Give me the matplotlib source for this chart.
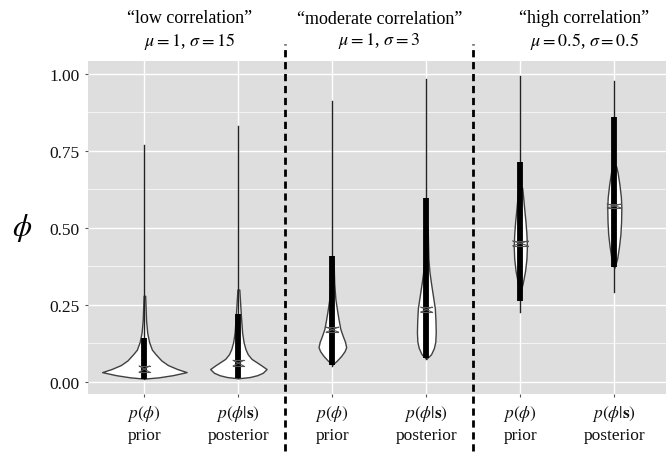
import numpy as np
import matplotlib
matplotlib.use("Agg")
import matplotlib.pyplot as plt
import matplotlib.transforms as mtransforms

plt.rcParams['font.family'] = ['Liberation Serif', 'DejaVu Serif']
plt.rcParams['mathtext.fontset'] = 'stix'

# categories / labels
positions = [1, 2, 3, 4, 5, 6]
tick_labels = [r"$p(\phi)$" + "\nprior", r"$p(\phi|\mathbf{s})$" + "\nposterior",
               r"$p(\phi)$" + "\nprior", r"$p(\phi|\mathbf{s})$" + "\nposterior",
               r"$p(\phi)$" + "\nprior", r"$p(\phi|\mathbf{s})$" + "\nposterior"]
group_titles = ["\u201clow correlation\u201d\n$\\mu = 1$, $\\sigma = 15$",
                "\u201cmoderate correlation\u201d\n$\\mu = 1$, $\\sigma = 3$",
                "\u201chigh correlation\u201d\n$\\mu = 0.5$, $\\sigma = 0.5$"]
group_title_x = [1.48, 3.5, 5.68]
separators = [2.5, 4.5]

# violin outlines: phi levels and half widths
v_levels = [
    [0.011, 0.015, 0.022, 0.032, 0.042, 0.055, 0.07, 0.09, 0.105, 0.13, 0.16, 0.2, 0.28],
    [0.012, 0.016, 0.022, 0.03, 0.042, 0.055, 0.075, 0.09, 0.107, 0.13, 0.16, 0.215, 0.3],
    [0.056, 0.07, 0.085, 0.1, 0.113, 0.13, 0.15, 0.172, 0.2, 0.227, 0.27, 0.32, 0.4],
    [0.075, 0.09, 0.11, 0.13, 0.16, 0.2, 0.24, 0.28, 0.32, 0.36, 0.4, 0.5],
    [0.29, 0.32, 0.36, 0.4, 0.44, 0.48, 0.52, 0.56, 0.6, 0.63],
    [0.37, 0.4, 0.44, 0.48, 0.52, 0.568, 0.6, 0.64, 0.68, 0.7],
]
v_halfwidth = [
    [0.0, 0.15, 0.3, 0.45, 0.35, 0.25, 0.18, 0.12, 0.08, 0.05, 0.03, 0.018, 0.008],
    [0.0, 0.12, 0.2, 0.26, 0.3, 0.24, 0.14, 0.1, 0.075, 0.055, 0.04, 0.027, 0.01],
    [0.0, 0.05, 0.095, 0.13, 0.147, 0.135, 0.11, 0.085, 0.068, 0.053, 0.032, 0.02, 0.012],
    [0.0, 0.05, 0.08, 0.095, 0.1, 0.097, 0.09, 0.07, 0.05, 0.032, 0.022, 0.014],
    [0.0, 0.025, 0.05, 0.065, 0.07, 0.065, 0.055, 0.042, 0.03, 0.02],
    [0.0, 0.03, 0.05, 0.065, 0.072, 0.075, 0.07, 0.055, 0.035, 0.02],
]

# intervals (thin = full range, thick = inner interval)
thin_lo = [0.01, 0.012, 0.052, 0.075, 0.227, 0.292]
thin_hi = [0.77, 0.83, 0.912, 0.985, 0.994, 0.977]
thick_lo = [0.011, 0.013, 0.056, 0.077, 0.263, 0.373]
thick_hi = [0.143, 0.22, 0.41, 0.597, 0.714, 0.86]

# central markers (two values each) and their half widths
mark_a = [0.032, 0.052, 0.162, 0.227, 0.442, 0.565]
mark_b = [0.052, 0.07, 0.178, 0.243, 0.458, 0.578]
mark_w = [0.055, 0.055, 0.065, 0.06, 0.08, 0.075]

fig = plt.figure(figsize=(6.66, 4.56), dpi=100)
ax = fig.add_axes([88 / 666, 61 / 456, 578 / 666, 333 / 456])
ax.set_facecolor('#dedede')
ax.set_xlim(0.4, 6.55)
ax.set_ylim(-0.039, 1.042)

ax.set_yticks([0, 0.25, 0.5, 0.75, 1.0])
ax.set_yticklabels(["0.00", "0.25", "0.50", "0.75", "1.00"])
ax.set_yticks([0.125, 0.375, 0.625, 0.875], minor=True)
ax.set_xticks(positions)
ax.set_xticklabels(tick_labels, linespacing=1.3)
ax.grid(which='major', color='white', lw=1.0)
ax.grid(which='minor', axis='y', color='white', lw=0.5)
ax.set_axisbelow(True)
for s in ax.spines.values():
    s.set_visible(False)
ax.tick_params(axis='both', which='major', length=2.5, color='#555', labelsize=12.5, labelcolor='#111')
ax.tick_params(axis='y', which='minor', length=0)
ax.tick_params(axis='x', pad=4)

ax.set_ylabel(r"$\phi$", rotation=0, fontsize=22, va='center')
ax.yaxis.set_label_coords(-0.114, 0.5)

for i, x in enumerate(positions):
    lv = np.array(v_levels[i])
    hw = np.array(v_halfwidth[i])
    ax.fill_betweenx(lv, x - hw, x + hw, facecolor='white', edgecolor='#404040', lw=1.0, zorder=2)
    ax.plot([x, x], [thin_lo[i], thin_hi[i]], color='#222', lw=1.0, zorder=3)
    ax.plot([x, x], [thick_lo[i], thick_hi[i]], color='black', lw=4.2, solid_capstyle='butt', zorder=3)
    w = mark_w[i]
    a, b = mark_a[i], mark_b[i]
    ax.plot([x - w, x + w], [a, a], color='#555', lw=0.8, zorder=4)
    ax.plot([x - w, x + w], [b, b], color='#555', lw=0.8, zorder=4)
    ax.plot([x - w, x + w], [a, b], color='#555', lw=0.8, zorder=4)
    ax.plot([x - w, x + w], [b, a], color='#555', lw=0.8, zorder=4)

trans = mtransforms.blended_transform_factory(ax.transData, ax.transAxes)
for sx in separators:
    ax.plot([sx, sx], [-0.171, 1.051], transform=trans, clip_on=False,
            color='black', lw=2.0, dashes=(2.6, 1.7), zorder=5)

for tx, title in zip(group_title_x, group_titles):
    ax.text(tx, 1.093, title, transform=trans, ha='center', va='center',
            fontsize=13, linespacing=1.25)

fig.savefig("out.png", dpi=100)
